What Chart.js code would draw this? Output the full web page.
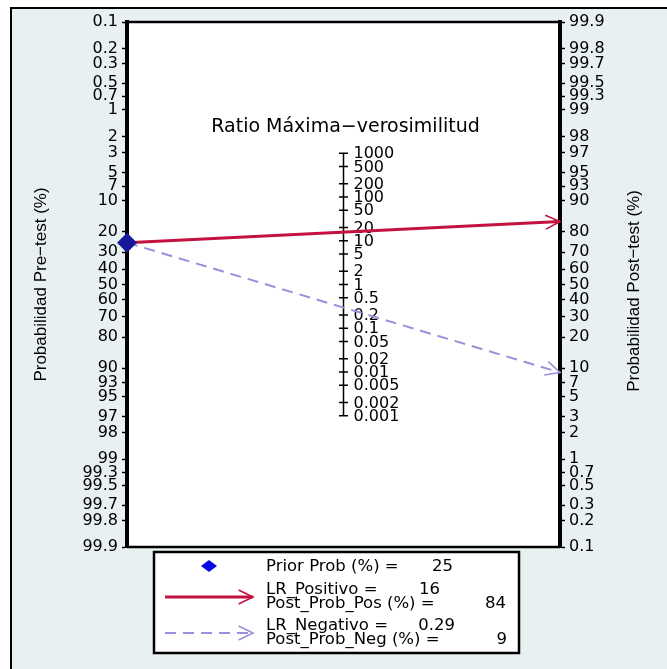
<!DOCTYPE html>
<html>
<head>
<meta charset="utf-8">
<script src="https://cdn.jsdelivr.net/npm/chart.js@4.4.1/dist/chart.umd.min.js"></script>
<style>
  html, body { margin: 0; padding: 0; background: #fff; }
  #wrap { width: 667px; height: 669px; }
</style>
</head>
<body>
<div id="wrap"><canvas id="fagan" width="667" height="669"></canvas></div>
<script>
// ===== FAGAN NOMOGRAM =====
const probTicks = [0.1, 0.2, 0.3, 0.5, 0.7, 1, 2, 3, 5, 7, 10, 20, 30, 40, 50, 60, 70, 80, 90, 93, 95, 97, 98, 99, 99.3, 99.5, 99.7, 99.8, 99.9];
const lrTicks = [1000, 500, 200, 100, 50, 20, 10, 5, 2, 1, 0.5, 0.2, 0.1, 0.05, 0.02, 0.01, 0.005, 0.002, 0.001];
const priorProb = 25;
const lrPos = 16, postPos = 84;
const lrNeg = 0.29, postNeg = 9;
const legendLabels = ['Prior Prob (%) =', 'LR_Positivo =', 'Post_Prob_Pos (%) =', 'LR_Negativo =', 'Post_Prob_Neg (%) ='];
const legendValues = [priorProb, lrPos, postPos, lrNeg, postNeg];

const PROB_MIN = 0.1, PROB_MAX = 99.9;
const LR_SPAN = Math.pow(PROB_MAX / PROB_MIN, 2);

const RED = '#c3123f';
const LAV = '#9a90dc';
const TICK_FONT = { family: 'DejaVu Sans', size: 16 };

// logit probability scale (values in %)
const logit = p => Math.log(p / (100 - p));
class LogitScale extends Chart.Scale {
    determineDataLimits() {
        const b = this.getUserBounds();
        this.min = b.min;
        this.max = b.max;
    }
    buildTicks() { return []; }
    getLabelForValue(v) { return String(v); }
    configure() {
        super.configure();
        this._lo = logit(this.min);
        this._span = logit(this.max) - this._lo;
    }
    getPixelForValue(v) {
        return this.getPixelForDecimal((logit(v) - this._lo) / this._span);
    }
    getValueForPixel(px) {
        const l = this._lo + this.getDecimalForPixel(px) * this._span;
        return 100 / (1 + Math.exp(-l));
    }
}
LogitScale.id = 'logit';
LogitScale.defaults = {};
Chart.register(LogitScale);

function arrow(ctx, x1, y1, x2, y2, color, width, dash) {
    ctx.save();
    ctx.strokeStyle = color;
    ctx.lineWidth = width;
    ctx.setLineDash(dash);
    ctx.beginPath();
    ctx.moveTo(x1, y1);
    ctx.lineTo(x2, y2);
    ctx.stroke();
    const a = Math.atan2(y2 - y1, x2 - x1), len = 16, spread = 0.45;
    ctx.setLineDash([]);
    ctx.lineWidth = 1.6;
    ctx.beginPath();
    ctx.moveTo(x2 - len * Math.cos(a - spread), y2 - len * Math.sin(a - spread));
    ctx.lineTo(x2, y2);
    ctx.lineTo(x2 - len * Math.cos(a + spread), y2 - len * Math.sin(a + spread));
    ctx.stroke();
    ctx.restore();
}

const faganPlugin = {
    id: 'fagan',
    beforeDraw(chart) {
        const { ctx, chartArea: a } = chart;
        ctx.save();
        ctx.fillStyle = '#fff';
        ctx.fillRect(0, 0, chart.width, chart.height);
        ctx.fillStyle = '#e9f0f2';
        ctx.fillRect(11, 8, chart.width, chart.height);
        ctx.strokeStyle = '#000';
        ctx.lineWidth = 2;
        ctx.strokeRect(11, 8, chart.width + 20, chart.height + 20);
        ctx.fillStyle = '#fff';
        ctx.fillRect(a.left, a.top, a.right - a.left, a.bottom - a.top);
        ctx.restore();
    },
    beforeDatasetsDraw(chart) {
        const { ctx, chartArea: a, scales } = chart;
        const x = scales.x, yL = scales.y, yR = scales.y2, lr = scales.lr;
        ctx.save();
        // top / bottom frame
        ctx.strokeStyle = '#000';
        ctx.lineWidth = 2.5;
        ctx.beginPath();
        ctx.moveTo(a.left, a.top); ctx.lineTo(a.right, a.top);
        ctx.moveTo(a.left, a.bottom); ctx.lineTo(a.right, a.bottom);
        ctx.stroke();

        // likelihood ratio axis
        const mx = x.getPixelForValue(0.5);
        ctx.lineWidth = 1.5;
        ctx.beginPath();
        ctx.moveTo(mx, lr.getPixelForValue(lrTicks[0]));
        ctx.lineTo(mx, lr.getPixelForValue(lrTicks[lrTicks.length - 1]));
        lrTicks.forEach(v => {
            const py = lr.getPixelForValue(v);
            ctx.moveTo(mx - 4.5, py); ctx.lineTo(mx + 4.5, py);
        });
        ctx.stroke();
        ctx.fillStyle = '#000';
        ctx.font = '16px "DejaVu Sans"';
        ctx.textAlign = 'left';
        ctx.textBaseline = 'middle';
        lrTicks.forEach(v => ctx.fillText(String(v), mx + 10, lr.getPixelForValue(v) + 1));
        ctx.font = '19px "DejaVu Sans"';
        ctx.textAlign = 'center';
        ctx.fillText('Ratio M\u00e1xima\u2212verosimilitud', mx + 2, 127);
        ctx.restore();

        // pre-test -> post-test lines
        const x0 = x.getPixelForValue(0), x1 = x.getPixelForValue(1);
        const y0 = yL.getPixelForValue(priorProb);
        arrow(ctx, x0, y0, x1, yR.getPixelForValue(postNeg), LAV, 2, [11, 7]);
        arrow(ctx, x0, y0, x1, yR.getPixelForValue(postPos), RED, 3, []);
    },
    afterDraw(chart) {
        const { ctx } = chart;
        ctx.save();
        // right axis title (reads bottom to top)
        ctx.fillStyle = '#000';
        ctx.font = '17px "Liberation Sans"';
        ctx.textAlign = 'center';
        ctx.textBaseline = 'middle';
        ctx.translate(634, 291);
        ctx.rotate(-Math.PI / 2);
        ctx.fillText('Probabilidad Post\u2212test (%)', 0, 0);
        ctx.restore();

        // legend box
        ctx.save();
        ctx.fillStyle = '#fff';
        ctx.fillRect(154, 552, 365, 101);
        ctx.strokeStyle = '#000';
        ctx.lineWidth = 2.5;
        ctx.strokeRect(154, 552, 365, 101);
        ctx.fillStyle = '#0a0ae0';
        ctx.beginPath();
        ctx.moveTo(209, 560); ctx.lineTo(217, 566); ctx.lineTo(209, 572); ctx.lineTo(201, 566);
        ctx.closePath();
        ctx.fill();
        arrow(ctx, 165, 597, 253, 597, RED, 3, []);
        arrow(ctx, 165, 633, 253, 633, LAV, 2, [11, 7]);
        ctx.fillStyle = '#000';
        ctx.font = '16.5px "DejaVu Sans"';
        ctx.textBaseline = 'middle';
        const rowsY = [567, 590, 604, 626, 640];
        const valX = [453, 440, 506, 455, 507];
        legendLabels.forEach((t, i) => {
            ctx.textAlign = 'left';
            ctx.fillText(t, 266, rowsY[i]);
            ctx.textAlign = 'right';
            ctx.fillText(String(legendValues[i]), valX[i], rowsY[i]);
        });
        ctx.restore();
    }
};

function probAxis(position, reverse, width, title) {
    return {
        type: 'logit',
        position: position,
        min: PROB_MIN,
        max: PROB_MAX,
        reverse: reverse,
        afterBuildTicks: s => { s.ticks = probTicks.map(v => ({ value: v })); },
        afterFit: s => { s.width = width; },
        ticks: { autoSkip: false, font: TICK_FONT, color: '#000', padding: 4, callback: v => String(v) },
        grid: { drawOnChartArea: false, drawTicks: true, tickLength: 5, tickWidth: 1.5, tickColor: '#000' },
        border: { display: true, width: 4, color: '#000' },
        title: title
    };
}

function initFagan() {
    const ctx = document.getElementById('fagan');
    new Chart(ctx, {
        type: 'scatter',
        data: {
            datasets: [{
                data: [{ x: 0, y: priorProb }],
                yAxisID: 'y',
                pointStyle: 'rectRot',
                pointRadius: 10,
                backgroundColor: '#17179a',
                borderColor: '#17179a',
                borderWidth: 0,
                clip: false
            }]
        },
        options: {
            responsive: false,
            animation: false,
            events: [],
            layout: { padding: { top: 22, bottom: 122, left: 0, right: 0 } },
            plugins: { legend: { display: false }, tooltip: { enabled: false } },
            scales: {
                x: { type: 'linear', min: 0, max: 1, display: false },
                y: probAxis('left', true, 127, {
                    display: true,
                    text: 'Probabilidad Pre\u2212test (%)',
                    color: '#000',
                    font: { family: 'Liberation Sans', size: 17 },
                    padding: { top: 31, bottom: 0 }
                }),
                y2: probAxis('right', false, 107, { display: false }),
                lr: { type: 'logarithmic', axis: 'y', display: false, min: 1 / LR_SPAN, max: LR_SPAN, bounds: 'data' }
            }
        },
        plugins: [faganPlugin]
    });
}

initFagan();
</script>
</body>
</html>
